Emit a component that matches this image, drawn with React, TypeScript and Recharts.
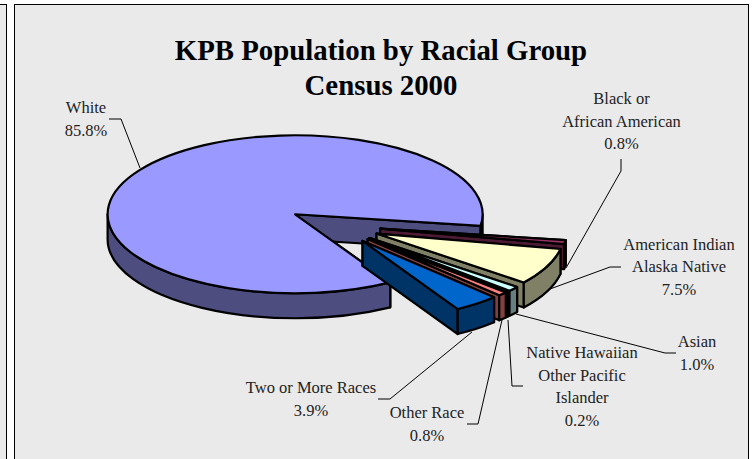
import { PieChart, Pie } from 'recharts';

// census shares, in drawing order (back to front)
const categories = [
  'White',
  'Black or African American',
  'American Indian Alaska Native',
  'Asian',
  'Native Hawaiian Other Pacific Islander',
  'Other Race',
  'Two or More Races',
];
const shares = [85.8, 0.8, 7.5, 1.0, 0.2, 0.8, 3.9];

const topColors = ['#9999ff', '#993366', '#ffffcc', '#ccffff', '#660066', '#ff8080', '#0066cc'];
const wallColors = ['#4d4d80', '#4d1a33', '#808066', '#668080', '#330033', '#804040', '#003366'];

// label text lines and where they sit (Excel placed these by hand)
const labelLines = [
  ['White'],
  ['Black or', 'African American'],
  ['American Indian', 'Alaska Native'],
  ['Asian'],
  ['Native Hawaiian', 'Other Pacific', 'Islander'],
  ['Other Race'],
  ['Two or More Races'],
];
const labelAnchors = [
  [86, 113],
  [621.5, 104],
  [679, 249.5],
  [697, 347],
  [582, 358],
  [427, 418],
  [311, 393],
];
const leaders = [
  '109,119 121,119 140,168',
  '621,159 621,171 566,268',
  '621,267 610,267 550,289',
  '676,353 665,353 516,314',
  '508,320 512,386 523,386',
  '502,320 478,424 467,424',
  '472,332 390,399 378,399',
];

const data = categories.map((name, i) => ({ name, value: shares[i], index: i }));

const SQUASH = 0.4213;
const DEPTH = 25;
const EXPLODE = 0.25;
const RAD = Math.PI / 180;

function Slice(props: any) {
  const { cx, cy, outerRadius, startAngle, endAngle, payload } = props;
  const i = payload?.index ?? props.index ?? 0;
  const rx = outerRadius;
  const ry = outerRadius * SQUASH;
  const mid = ((startAngle + endAngle) / 2) * RAD;
  const ox = cx + EXPLODE * rx * Math.cos(mid);
  const oy = cy - EXPLODE * ry * Math.sin(mid);
  const pt = (deg: number, down = 0) => [
    ox + rx * Math.cos(deg * RAD),
    oy - ry * Math.sin(deg * RAD) + down,
  ];
  const [sx, sy] = pt(startAngle);
  const [ex, ey] = pt(endAngle);
  const sweep = Math.abs(endAngle - startAngle);
  const large = sweep > 180 ? 1 : 0;
  const dir = endAngle < startAngle ? 1 : 0;
  const top = `M${ox},${oy} L${sx},${sy} A${rx},${ry} 0 ${large} ${dir} ${ex},${ey} Z`;

  const wall = (x: number, y: number) =>
    `M${ox},${oy} L${x},${y} L${x},${y + DEPTH} L${ox},${oy + DEPTH} Z`;

  // outer rim: only the part facing the viewer (the lower half of the ellipse)
  const lo = Math.min(startAngle, endAngle);
  const hi = Math.max(startAngle, endAngle);
  const rims: string[] = [];
  for (let k = -2; k <= 1; k++) {
    const a = Math.max(lo, -180 + 360 * k);
    const b = Math.min(hi, 360 * k);
    if (b > a) {
      const [ax, ay] = pt(a);
      const [bx, by] = pt(b);
      rims.push(
        `M${ax},${ay} A${rx},${ry} 0 0 0 ${bx},${by} L${bx},${by + DEPTH} A${rx},${ry} 0 0 1 ${ax},${ay + DEPTH} Z`
      );
    }
  }

  const line = { stroke: '#000', strokeWidth: 2.2, strokeLinejoin: 'round' as const };
  return (
    <g>
      <path d={wall(sx, sy)} fill={wallColors[i]} {...line} />
      <path d={wall(ex, ey)} fill={wallColors[i]} {...line} />
      {rims.map((d) => (
        <path key={d} d={d} fill={wallColors[i]} {...line} />
      ))}
      <path d={top} fill={topColors[i]} {...line} />
    </g>
  );
}

function SliceLabel(props: any) {
  const i = props.payload?.index ?? props.index ?? 0;
  const [x, y] = labelAnchors[i];
  const rows = [...labelLines[i], `${shares[i].toFixed(1)}%`];
  return (
    <g>
      <polyline points={leaders[i]} fill="none" stroke="#000" strokeWidth={1} />
      <text x={x} y={y} textAnchor="middle" fontFamily="'Liberation Serif'" fontSize={16.5} fill="#222">
        {rows.map((row, n) => (
          <tspan key={row} x={x} dy={n === 0 ? 0 : 22.5}>
            {row}
          </tspan>
        ))}
      </text>
    </g>
  );
}

export default function App() {
  return (
    <div style={{ position: 'absolute', left: 0, top: 0, width: 755, height: 459, background: '#fff', overflow: 'hidden' }}>
      <div style={{ position: 'absolute', left: -10, top: 4, width: 15, height: 480, background: '#eaeaea', border: '1px solid #000' }} />
      <div style={{ position: 'absolute', left: 14, top: 4, width: 733, height: 480, background: '#eaeaea', border: '1px solid #000' }} />
      <div style={{ position: 'absolute', left: 0, top: 0 }}>
        <PieChart width={755} height={459} margin={{ top: 0, right: 0, bottom: 0, left: 0 }}>
          <text x={381} y={60} textAnchor="middle" fontFamily="'Liberation Serif'" fontWeight="bold" fontSize={28.8}>
            KPB Population by Racial Group
          </text>
          <text x={381} y={95} textAnchor="middle" fontFamily="'Liberation Serif'" fontWeight="bold" fontSize={28.8}>
            Census 2000
          </text>
          <Pie
            data={data}
            dataKey="value"
            nameKey="name"
            cx={334}
            cy={225.3}
            innerRadius={0}
            outerRadius={187.5}
            startAngle={-59.5}
            endAngle={-419.5}
            paddingAngle={0}
            shape={Slice}
            label={SliceLabel}
            labelLine={false}
            isAnimationActive={false}
          />
        </PieChart>
      </div>
    </div>
  );
}
